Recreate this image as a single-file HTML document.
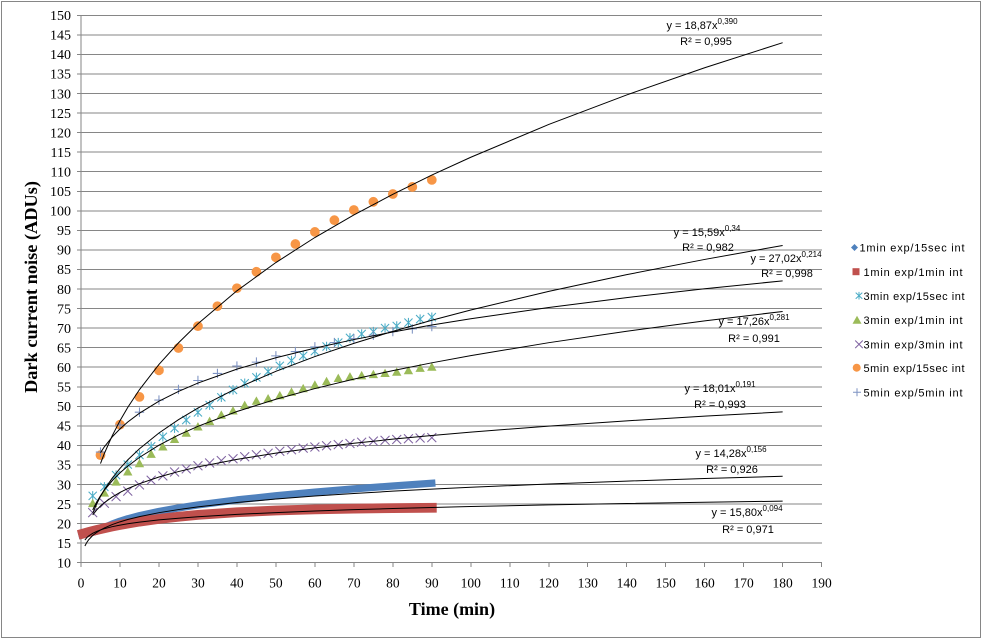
<!DOCTYPE html>
<html><head><meta charset="utf-8"><style>
html,body{margin:0;padding:0;background:#fff;}
svg{display:block;}
.yl{font-family:"Liberation Serif",serif;font-size:14px;fill:#000;text-anchor:end;}
.xl{font-family:"Liberation Serif",serif;font-size:13.5px;fill:#000;text-anchor:middle;}
.tl{font-family:"Liberation Sans",sans-serif;font-size:11px;fill:#000;text-anchor:middle;}
.lg{font-family:"Liberation Sans",sans-serif;font-size:11px;fill:#000;}
.tr{fill:none;stroke:#000;stroke-width:1;vector-effect:non-scaling-stroke;}
</style></head><body>
<svg width="982" height="640" viewBox="0 0 982 640" xmlns="http://www.w3.org/2000/svg">
<rect x="0" y="0" width="982" height="640" fill="#fff"/>
<rect x="1.5" y="1.5" width="979" height="636" fill="none" stroke="#868686" stroke-width="1"/>
<defs>
<path id="tri" d="M-1.2,-1.0 L1.2,-1.0 L0,1.15 Z" fill="#9BBB59"/>
<circle id="cir" cx="0" cy="0" r="1.25" fill="#F79646"/>
<path id="st" d="M0,-1.2 V1.2 M-1.05,-1.05 L1.05,1.05 M-1.05,1.05 L1.05,-1.05" stroke="#4BACC6" stroke-width="0.27" fill="none"/>
<path id="xm" d="M-1.15,-1.15 L1.15,1.15 M-1.15,1.15 L1.15,-1.15" stroke="#8064A2" stroke-width="0.27" fill="none"/>
<path id="pl" d="M-1.2,0 H1.2 M0,-1.2 V1.2" stroke="#7d92c2" stroke-width="0.27" fill="none"/>
</defs>
<!-- gridlines -->
<g stroke="#868686" stroke-width="1" shape-rendering="crispEdges">
<line x1="77" x2="822" y1="543.15" y2="543.15"/>
<line x1="77" x2="822" y1="523.6" y2="523.6"/>
<line x1="77" x2="822" y1="504.05" y2="504.05"/>
<line x1="77" x2="822" y1="484.5" y2="484.5"/>
<line x1="77" x2="822" y1="464.95" y2="464.95"/>
<line x1="77" x2="822" y1="445.4" y2="445.4"/>
<line x1="77" x2="822" y1="425.85" y2="425.85"/>
<line x1="77" x2="822" y1="406.3" y2="406.3"/>
<line x1="77" x2="822" y1="386.75" y2="386.75"/>
<line x1="77" x2="822" y1="367.2" y2="367.2"/>
<line x1="77" x2="822" y1="347.65" y2="347.65"/>
<line x1="77" x2="822" y1="328.1" y2="328.1"/>
<line x1="77" x2="822" y1="308.55" y2="308.55"/>
<line x1="77" x2="822" y1="289" y2="289"/>
<line x1="77" x2="822" y1="269.45" y2="269.45"/>
<line x1="77" x2="822" y1="249.9" y2="249.9"/>
<line x1="77" x2="822" y1="230.35" y2="230.35"/>
<line x1="77" x2="822" y1="210.8" y2="210.8"/>
<line x1="77" x2="822" y1="191.25" y2="191.25"/>
<line x1="77" x2="822" y1="171.7" y2="171.7"/>
<line x1="77" x2="822" y1="152.15" y2="152.15"/>
<line x1="77" x2="822" y1="132.6" y2="132.6"/>
<line x1="77" x2="822" y1="113.05" y2="113.05"/>
<line x1="77" x2="822" y1="93.5" y2="93.5"/>
<line x1="77" x2="822" y1="73.95" y2="73.95"/>
<line x1="77" x2="822" y1="54.4" y2="54.4"/>
<line x1="77" x2="822" y1="34.85" y2="34.85"/>
<line x1="77" x2="822" y1="15.3" y2="15.3"/>
<line x1="77" x2="822" y1="562.7" y2="562.7"/>
<line x1="81" x2="81" y1="15.3" y2="567"/>
<line x1="119.98" x2="119.98" y1="562.7" y2="567"/>
<line x1="158.96" x2="158.96" y1="562.7" y2="567"/>
<line x1="197.94" x2="197.94" y1="562.7" y2="567"/>
<line x1="236.92" x2="236.92" y1="562.7" y2="567"/>
<line x1="275.9" x2="275.9" y1="562.7" y2="567"/>
<line x1="314.88" x2="314.88" y1="562.7" y2="567"/>
<line x1="353.86" x2="353.86" y1="562.7" y2="567"/>
<line x1="392.84" x2="392.84" y1="562.7" y2="567"/>
<line x1="431.82" x2="431.82" y1="562.7" y2="567"/>
<line x1="470.8" x2="470.8" y1="562.7" y2="567"/>
<line x1="509.78" x2="509.78" y1="562.7" y2="567"/>
<line x1="548.76" x2="548.76" y1="562.7" y2="567"/>
<line x1="587.74" x2="587.74" y1="562.7" y2="567"/>
<line x1="626.72" x2="626.72" y1="562.7" y2="567"/>
<line x1="665.7" x2="665.7" y1="562.7" y2="567"/>
<line x1="704.68" x2="704.68" y1="562.7" y2="567"/>
<line x1="743.66" x2="743.66" y1="562.7" y2="567"/>
<line x1="782.64" x2="782.64" y1="562.7" y2="567"/>
<line x1="821.62" x2="821.62" y1="562.7" y2="567"/>
</g>
<!-- y labels -->
<g class="yl">
<text x="71" y="567.5">10</text>
<text x="71" y="547.9">15</text>
<text x="71" y="528.4">20</text>
<text x="71" y="508.8">25</text>
<text x="71" y="489.3">30</text>
<text x="71" y="469.7">35</text>
<text x="71" y="450.2">40</text>
<text x="71" y="430.6">45</text>
<text x="71" y="411.1">50</text>
<text x="71" y="391.5">55</text>
<text x="71" y="372">60</text>
<text x="71" y="352.4">65</text>
<text x="71" y="332.9">70</text>
<text x="71" y="313.3">75</text>
<text x="71" y="293.8">80</text>
<text x="71" y="274.2">85</text>
<text x="71" y="254.7">90</text>
<text x="71" y="235.1">95</text>
<text x="71" y="215.6">100</text>
<text x="71" y="196">105</text>
<text x="71" y="176.5">110</text>
<text x="71" y="156.9">115</text>
<text x="71" y="137.4">120</text>
<text x="71" y="117.8">125</text>
<text x="71" y="98.3">130</text>
<text x="71" y="78.7">135</text>
<text x="71" y="59.2">140</text>
<text x="71" y="39.6">145</text>
<text x="71" y="20.1">150</text>
</g>
<!-- x labels -->
<g class="xl">
<text x="81" y="587.5">0</text>
<text x="119.98" y="587.5">10</text>
<text x="158.96" y="587.5">20</text>
<text x="197.94" y="587.5">30</text>
<text x="236.92" y="587.5">40</text>
<text x="275.9" y="587.5">50</text>
<text x="314.88" y="587.5">60</text>
<text x="353.86" y="587.5">70</text>
<text x="392.84" y="587.5">80</text>
<text x="431.82" y="587.5">90</text>
<text x="470.8" y="587.5">100</text>
<text x="509.78" y="587.5">110</text>
<text x="548.76" y="587.5">120</text>
<text x="587.74" y="587.5">130</text>
<text x="626.72" y="587.5">140</text>
<text x="665.7" y="587.5">150</text>
<text x="704.68" y="587.5">160</text>
<text x="743.66" y="587.5">170</text>
<text x="782.64" y="587.5">180</text>
<text x="821.62" y="587.5">190</text>
</g>
<!-- axis titles -->
<text x="452" y="615" font-family="Liberation Serif, serif" font-size="18" font-weight="bold" text-anchor="middle">Time (min)</text>
<text transform="translate(31,287) rotate(-90)" x="0" y="6" font-family="Liberation Serif, serif" font-size="18" font-weight="bold" text-anchor="middle" textLength="212" lengthAdjust="spacingAndGlyphs">Dark current noise (ADUs)</text>

<!-- data -->
<g transform="matrix(3.898 0 0 -3.91 81 601.8)">
<polyline fill="none" stroke="#4F81BD" stroke-width="1.85" stroke-linecap="square" stroke-linejoin="round" points="0.25,17.1 1,17.28 2,17.55 3,17.81 4,18.06 5,18.44 6,18.99 8,19.88 10,20.62 12,21.24 15,22.04 20,23.12 25,24.0 30,24.77 40,26.06 50,27.12 60,28.05 70,28.88 80,29.62 90,30.31"/>
<polyline fill="none" stroke="#C0504D" stroke-width="2.5" stroke-linecap="square" stroke-linejoin="round" points="0.5,17.44 1,17.58 2,17.85 3,18.11 4,18.36 5,18.6 6,18.83 8,19.26 10,19.65 12,20.01 15,20.51 20,21.2 25,21.76 30,22.22 40,22.9 50,23.34 60,23.63 70,23.83 80,23.95 90,24.04"/>
<!-- cyan -->
<use href="#st" x="3" y="27.1"/><use href="#st" x="6" y="29.4"/><use href="#st" x="9" y="32.4"/><use href="#st" x="12" y="35.1"/><use href="#st" x="15" y="37.55"/><use href="#st" x="18" y="39.75"/><use href="#st" x="21" y="42.2"/><use href="#st" x="24" y="44.4"/><use href="#st" x="27" y="46.5"/><use href="#st" x="30" y="48.45"/><use href="#st" x="33" y="50.3"/><use href="#st" x="36" y="52.3"/><use href="#st" x="39" y="54.2"/><use href="#st" x="42" y="55.9"/><use href="#st" x="45" y="57.4"/><use href="#st" x="48" y="58.9"/><use href="#st" x="51" y="60.35"/><use href="#st" x="54" y="61.7"/><use href="#st" x="57" y="62.9"/><use href="#st" x="60" y="64.1"/><use href="#st" x="63" y="65.3"/><use href="#st" x="66" y="66.3"/><use href="#st" x="69" y="67.5"/><use href="#st" x="72" y="68.5"/><use href="#st" x="75" y="69.1"/><use href="#st" x="78" y="70.0"/><use href="#st" x="81" y="70.55"/><use href="#st" x="84" y="71.4"/><use href="#st" x="87" y="72.3"/><use href="#st" x="90" y="72.8"/>
<!-- green -->
<use href="#tri" x="3" y="25.2"/><use href="#tri" x="6" y="27.9"/><use href="#tri" x="9" y="30.7"/><use href="#tri" x="12" y="33.3"/><use href="#tri" x="15" y="35.4"/><use href="#tri" x="18" y="37.8"/><use href="#tri" x="21" y="39.7"/><use href="#tri" x="24" y="41.6"/><use href="#tri" x="27" y="43.2"/><use href="#tri" x="30" y="44.8"/><use href="#tri" x="33" y="46.2"/><use href="#tri" x="36" y="47.8"/><use href="#tri" x="39" y="48.9"/><use href="#tri" x="42" y="50.3"/><use href="#tri" x="45" y="51.4"/><use href="#tri" x="48" y="52.0"/><use href="#tri" x="51" y="52.8"/><use href="#tri" x="54" y="53.7"/><use href="#tri" x="57" y="54.6"/><use href="#tri" x="60" y="55.5"/><use href="#tri" x="63" y="56.4"/><use href="#tri" x="66" y="57.2"/><use href="#tri" x="69" y="57.6"/><use href="#tri" x="72" y="57.9"/><use href="#tri" x="75" y="58.2"/><use href="#tri" x="78" y="58.5"/><use href="#tri" x="81" y="58.8"/><use href="#tri" x="84" y="59.2"/><use href="#tri" x="87" y="59.8"/><use href="#tri" x="90" y="60.1"/>
<!-- purple -->
<use href="#xm" x="3" y="22.8"/><use href="#xm" x="6" y="25.2"/><use href="#xm" x="9" y="26.9"/><use href="#xm" x="12" y="28.3"/><use href="#xm" x="15" y="29.9"/><use href="#xm" x="18" y="31.1"/><use href="#xm" x="21" y="32.2"/><use href="#xm" x="24" y="33.2"/><use href="#xm" x="27" y="34.0"/><use href="#xm" x="30" y="34.8"/><use href="#xm" x="33" y="35.5"/><use href="#xm" x="36" y="36.1"/><use href="#xm" x="39" y="36.6"/><use href="#xm" x="42" y="37.1"/><use href="#xm" x="45" y="37.6"/><use href="#xm" x="48" y="38.0"/><use href="#xm" x="51" y="38.5"/><use href="#xm" x="54" y="38.9"/><use href="#xm" x="57" y="39.3"/><use href="#xm" x="60" y="39.6"/><use href="#xm" x="63" y="39.9"/><use href="#xm" x="66" y="40.2"/><use href="#xm" x="69" y="40.5"/><use href="#xm" x="72" y="40.8"/><use href="#xm" x="75" y="41.1"/><use href="#xm" x="78" y="41.3"/><use href="#xm" x="81" y="41.5"/><use href="#xm" x="84" y="41.7"/><use href="#xm" x="87" y="41.9"/><use href="#xm" x="90" y="42.0"/>
<!-- orange -->
<use href="#cir" x="5" y="37.5"/><use href="#cir" x="10" y="45.3"/><use href="#cir" x="15" y="52.4"/><use href="#cir" x="20" y="59.2"/><use href="#cir" x="25" y="64.9"/><use href="#cir" x="30" y="70.5"/><use href="#cir" x="35" y="75.6"/><use href="#cir" x="40" y="80.2"/><use href="#cir" x="45" y="84.4"/><use href="#cir" x="50" y="88.1"/><use href="#cir" x="55" y="91.5"/><use href="#cir" x="60" y="94.6"/><use href="#cir" x="65" y="97.6"/><use href="#cir" x="70" y="100.2"/><use href="#cir" x="75" y="102.3"/><use href="#cir" x="80" y="104.3"/><use href="#cir" x="85" y="106.1"/><use href="#cir" x="90" y="107.9"/>
<!-- plus -->
<use href="#pl" x="5" y="38.3"/><use href="#pl" x="10" y="45.2"/><use href="#pl" x="15" y="48.5"/><use href="#pl" x="20" y="51.6"/><use href="#pl" x="25" y="54.3"/><use href="#pl" x="30" y="56.6"/><use href="#pl" x="35" y="58.4"/><use href="#pl" x="40" y="60.3"/><use href="#pl" x="45" y="61.3"/><use href="#pl" x="50" y="62.9"/><use href="#pl" x="55" y="64.0"/><use href="#pl" x="60" y="65.2"/><use href="#pl" x="65" y="66.3"/><use href="#pl" x="70" y="67.3"/><use href="#pl" x="75" y="68.2"/><use href="#pl" x="80" y="69.1"/><use href="#pl" x="85" y="69.8"/><use href="#pl" x="90" y="70.4"/>
<!-- trendlines -->
<polyline class="tr" points="1,15.8 1.5,16.41 2,16.86 3,17.52 4,18 5,18.38 6,18.7 8,19.21 10,19.62 12,19.96 15,20.38 20,20.94 25,21.38 30,21.75 40,22.35 50,22.82 60,23.22 70,23.56 80,23.85 90,24.12 100,24.36 120,24.78 140,25.14 160,25.46 180,25.74"/>
<polyline class="tr" points="1,14.28 1.5,15.21 2,15.91 3,16.95 4,17.73 5,18.36 6,18.89 8,19.75 10,20.45 12,21.04 15,21.79 20,22.79 25,23.59 30,24.27 40,25.39 50,26.29 60,27.05 70,27.71 80,28.29 90,28.81 100,29.29 120,30.14 140,30.87 160,31.52 180,32.1"/>
<polyline class="tr" points="3,22.22 4,23.47 5,24.49 6,25.36 8,26.79 10,27.96 12,28.95 15,30.21 20,31.92 25,33.31 30,34.49 40,36.43 50,38.02 60,39.37 70,40.54 80,41.59 90,42.54 100,43.4 120,44.94 140,46.28 160,47.48 180,48.56"/>
<polyline class="tr" points="3,23.5 4,25.48 5,27.13 6,28.56 8,30.96 10,32.97 12,34.7 15,36.94 20,40.05 25,42.64 30,44.89 40,48.67 50,51.81 60,54.54 70,56.95 80,59.13 90,61.12 100,62.96 120,66.27 140,69.2 160,71.85 180,74.26"/>
<polyline class="tr" points="3,22.65 4,24.98 5,26.95 6,28.67 8,31.62 10,34.11 12,36.29 15,39.15 20,43.17 25,46.58 30,49.55 40,54.64 50,58.95 60,62.72 70,66.1 80,69.17 90,72 100,74.63 120,79.4 140,83.67 160,87.56 180,91.13"/>
<polyline class="tr" points="5,38.13 6,39.65 8,42.16 10,44.23 12,45.99 15,48.24 20,51.3 25,53.81 30,55.95 40,59.5 50,62.41 60,64.89 70,67.07 80,69.01 90,70.78 100,72.39 120,75.27 140,77.8 160,80.05 180,82.09"/>
<polyline class="tr" points="5,35.35 6,37.96 8,42.46 10,46.32 12,49.73 15,54.26 20,60.7 25,66.22 30,71.1 40,79.54 50,86.77 60,93.17 70,98.94 80,104.22 90,109.13 100,113.7 120,122.08 140,129.64 160,136.58 180,143"/>
</g>

<!-- trend labels -->
<g class="tl">
<text x="702" y="29">y = 18,87x<tspan font-size="8" dy="-5">0,390</tspan></text>
<text x="706" y="45">R² = 0,995</text>
<text x="707" y="236">y = 15,59x<tspan font-size="8" dy="-5">0,34</tspan></text>
<text x="708" y="251">R² = 0,982</text>
<text x="786" y="262">y = 27,02x<tspan font-size="8" dy="-5">0,214</tspan></text>
<text x="787" y="277">R² = 0,998</text>
<text x="754" y="325">y = 17,26x<tspan font-size="8" dy="-5">0,281</tspan></text>
<text x="754" y="342">R² = 0,991</text>
<text x="720" y="392">y = 18,01x<tspan font-size="8" dy="-5">0,191</tspan></text>
<text x="720" y="408">R² = 0,993</text>
<text x="731" y="457">y = 14,28x<tspan font-size="8" dy="-5">0,156</tspan></text>
<text x="732" y="473">R² = 0,926</text>
<text x="747" y="516">y = 15,80x<tspan font-size="8" dy="-5">0,094</tspan></text>
<text x="748" y="533">R² = 0,971</text>
</g>

<!-- legend -->
<path d="M854.5,244 L858,247.5 L854.5,251 L851,247.5Z" fill="#4F81BD"/>
<rect x="852.5" y="268.2" width="7" height="7" fill="#C0504D"/>
<path d="M859,291.9 V299.5 M855.7,292.6 L862.3,298.8 M855.7,298.8 L862.3,292.6" stroke="#4BACC6" stroke-width="1" fill="none"/>
<path d="M852.5,323.8 L861.5,323.8 L857,315.8Z" fill="#9BBB59"/>
<path d="M855.2,340.5 L862.8,348.1 M855.2,348.1 L862.8,340.5" stroke="#8064A2" stroke-width="1" fill="none"/>
<circle cx="856.7" cy="367.7" r="4" fill="#F79646"/>
<path d="M853,392.3 H861 M857,388.3 V396.3" stroke="#7d92c2" stroke-width="1" fill="none"/>
<g class="lg">
<text x="859.5" y="251.5" textLength="105" lengthAdjust="spacing">1min exp/15sec int</text>
<text x="863.5" y="275.8" textLength="99" lengthAdjust="spacing">1min exp/1min int</text>
<text x="863.5" y="299.8" textLength="101" lengthAdjust="spacing">3min exp/15sec int</text>
<text x="863.5" y="324.1" textLength="99" lengthAdjust="spacing">3min exp/1min int</text>
<text x="863.5" y="348.4" textLength="99" lengthAdjust="spacing">3min exp/3min int</text>
<text x="863.5" y="371.8" textLength="101" lengthAdjust="spacing">5min exp/15sec int</text>
<text x="863.5" y="396.4" textLength="99" lengthAdjust="spacing">5min exp/5min int</text>
</g>
</svg>
</body></html>
